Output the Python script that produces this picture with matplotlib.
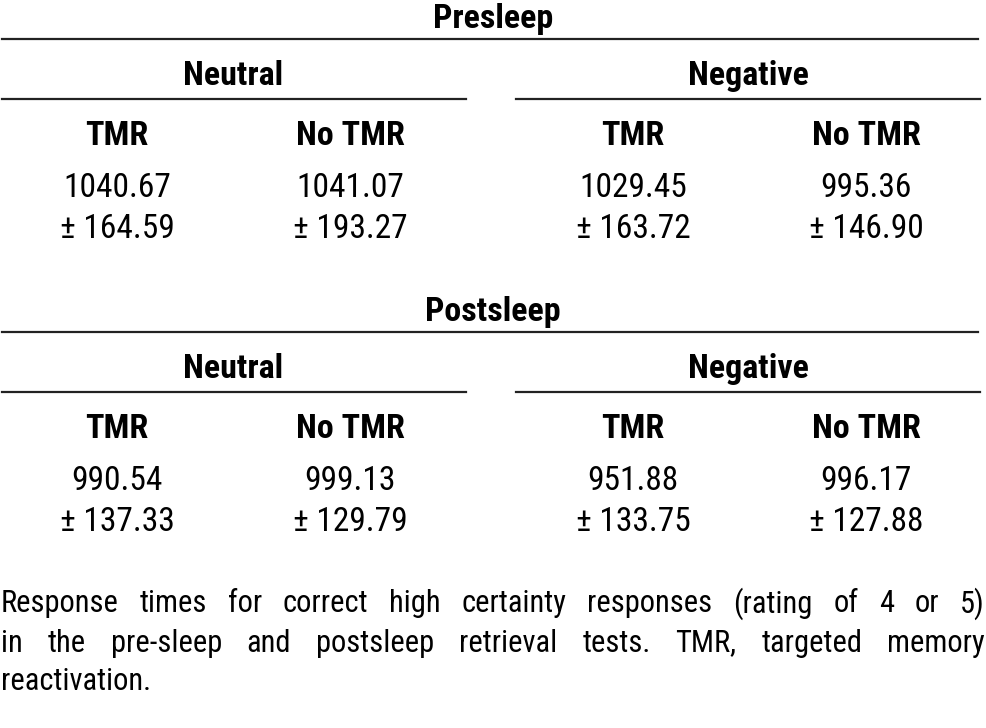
import matplotlib
matplotlib.use("Agg")
import matplotlib.pyplot as plt

# condensed sans close to the Arial Narrow of the original
plt.rcParams['font.family'] = ['Roboto Condensed', 'Liberation Sans', 'DejaVu Sans']

## table data
sessions = ["Presleep", "Postsleep"]
valences = ["Neutral", "Negative"]
conditions = ["TMR", "No TMR"]
means = [[1040.67, 1041.07, 1029.45, 995.36],
         [990.54, 999.13, 951.88, 996.17]]
sds = [[164.59, 193.27, 163.72, 146.90],
       [137.33, 129.79, 133.75, 127.88]]
caption_lines = [
    "Response times for correct high certainty responses (rating of 4 or 5)",
    "in the pre-sleep and postsleep retrieval tests. TMR, targeted memory",
    "reactivation.",
]

W, H = 987, 728
fig = plt.figure(figsize=(W / 100, H / 100), dpi=100)
ax = fig.add_axes([0, 0, 1, 1])
ax.set_xlim(0, W)
ax.set_ylim(H, 0)
ax.axis('off')

col_x = [117, 350, 633, 866]
val_x = [233, 748]
val_lines = [(2, 466), (516, 980)]
lw = 1.6
hsize = 24.5
vsize = 24

for s, sess in enumerate(sessions):
    y0 = s * 293
    ax.text(493, y0 + 19, sess, ha='center', va='center', fontsize=hsize, fontweight='bold')
    ax.plot([2, 978], [y0 + 39, y0 + 39], color='#222222', lw=lw)
    for v, val in enumerate(valences):
        ax.text(val_x[v], y0 + 76, val, ha='center', va='center', fontsize=hsize, fontweight='bold')
        ax.plot(val_lines[v], [y0 + 99, y0 + 99], color='#222222', lw=lw)
    for c in range(4):
        ax.text(col_x[c], y0 + 136, conditions[c % 2], ha='center', va='center',
                fontsize=hsize, fontweight='bold')
        ax.text(col_x[c], y0 + 188, f"{means[s][c]:.2f}", ha='center', va='center', fontsize=vsize)
        ax.text(col_x[c], y0 + 229, f"\u00b1 {sds[s][c]:.2f}", ha='center', va='center', fontsize=vsize)

# justified caption
fig.canvas.draw()
renderer = fig.canvas.get_renderer()
csize = 22
left, right = 1, 985
cap_y = [604, 643, 681]
for i, line in enumerate(caption_lines):
    words = line.split()
    if i == len(caption_lines) - 1:
        ax.text(left, cap_y[i], line, ha='left', va='center', fontsize=csize)
        continue
    widths = []
    for w in words:
        t = ax.text(0, 0, w, fontsize=csize)
        widths.append(t.get_window_extent(renderer).width)
        t.remove()
    gap = (right - left - sum(widths)) / (len(words) - 1)
    x = left
    for w, wd in zip(words, widths):
        ax.text(x, cap_y[i], w, ha='left', va='center', fontsize=csize)
        x += wd + gap

fig.savefig("out.png", dpi=100)
